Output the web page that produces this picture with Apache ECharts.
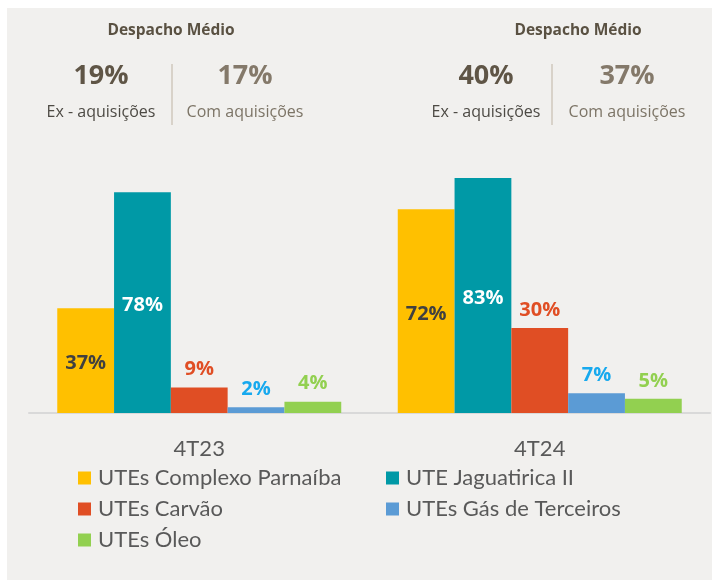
<!DOCTYPE html>
<html>
<head>
<meta charset="utf-8">
<script src="https://cdn.jsdelivr.net/npm/echarts@6/dist/echarts.min.js"></script>
<style>
  html, body { margin: 0; padding: 0; background: #ffffff; }
  #chart { width: 712px; height: 580px; }
</style>
</head>
<body>
<div id="chart"></div>
<script>
// ===== 数据 =====
const periods = ['4T23', '4T24']
const seriesNames = ['UTEs Complexo Parnaíba', 'UTE Jaguatirica II', 'UTEs Carvão', 'UTEs Gás de Terceiros', 'UTEs Óleo']
const parnaiba = [37, 72]
const jaguatirica = [78, 83]
const carvao = [9, 30]
const gasTerceiros = [2, 7]
const oleo = [4, 5]
const despachoEx = ['19%', '40%']
const despachoCom = ['17%', '37%']

// ===== 样式 =====
const barColors = ['#ffc000', '#0099a6', '#e04e24', '#5b9bd5', '#92d050']
const labelColors = ['#404040', '#ffffff', '#e04e24', '#17a9ee', '#92d050']
const labelPos = ['inside', 'inside', 'top', 'top', 'top']
const values = [parnaiba, jaguatirica, carvao, gasTerceiros, oleo]
const font = '"Open Sans", "DejaVu Sans", sans-serif'
const legendFont = 'Lato, "Open Sans", sans-serif'

const chart = echarts.init(document.getElementById('chart'))

// 顶部 "Despacho Médio" 文字块
const headerCenters = [
  { title: 171, ex: 101, com: 245, line: 172 },
  { title: 578, ex: 486, com: 627, line: 552 }
]
const graphics = [{
  type: 'rect', left: 7, top: 8, z: -10,
  shape: { width: 712, height: 580 },
  style: { fill: '#f1f0ee' }
}]
headerCenters.forEach((h, i) => {
  graphics.push(
    { type: 'text', x: h.title, y: 31, style: { text: 'Despacho Médio', font: 'bold 15.5px ' + font, fill: '#5a5142', align: 'center', verticalAlign: 'middle' } },
    { type: 'text', x: h.ex, y: 76, style: { text: despachoEx[i], font: 'bold 27px ' + font, fill: '#5f5546', align: 'center', verticalAlign: 'middle' } },
    { type: 'text', x: h.com, y: 76, style: { text: despachoCom[i], font: 'bold 27px ' + font, fill: '#84796a', align: 'center', verticalAlign: 'middle' } },
    { type: 'text', x: h.ex, y: 112, style: { text: 'Ex - aquisições', font: '16px ' + font, fill: '#4d4a44', align: 'center', verticalAlign: 'middle' } },
    { type: 'text', x: h.com, y: 112, style: { text: 'Com aquisições', font: '16px ' + font, fill: '#7c7466', align: 'center', verticalAlign: 'middle' } },
    { type: 'line', shape: { x1: h.line, y1: 64, x2: h.line, y2: 125 }, style: { stroke: '#cfc8bc', lineWidth: 1.5 } }
  )
})

const legendBase = {
  orient: 'vertical', top: 462, itemGap: 9,
  icon: 'rect', itemWidth: 13, itemHeight: 13,
  textStyle: { fontSize: 22, color: '#595959', fontFamily: legendFont, padding: [0, 0, 0, 2] }
}

chart.setOption({
  animation: false,
  backgroundColor: '#ffffff',
  textStyle: { fontFamily: font },
  graphic: graphics,
  grid: { left: 29, right: 2, top: 130, bottom: 167 },
  xAxis: {
    type: 'category',
    data: periods,
    axisLine: { lineStyle: { color: '#d9d9d9', width: 2 } },
    axisTick: { show: false },
    axisLabel: { fontSize: 22, color: '#595959', margin: 25, fontFamily: legendFont }
  },
  yAxis: { type: 'value', min: 0, max: 100, show: false, splitLine: { show: false } },
  legend: [
    Object.assign({}, legendBase, { data: [seriesNames[0], seriesNames[2], seriesNames[4]], left: 73 }),
    Object.assign({}, legendBase, { data: [seriesNames[1], seriesNames[3]], left: 381 })
  ],
  series: seriesNames.map((name, i) => ({
    name,
    type: 'bar',
    data: values[i],
    barGap: 0,
    barCategoryGap: '16.6%',
    itemStyle: { color: barColors[i] },
    label: {
      show: true,
      position: labelPos[i],
      distance: 8,
      offset: labelPos[i] === 'inside' ? [0, 3] : [0, 0],
      formatter: '{c}%',
      fontSize: 20,
      fontWeight: 'bold',
      color: labelColors[i]
    }
  }))
})
</script>
</body>
</html>
